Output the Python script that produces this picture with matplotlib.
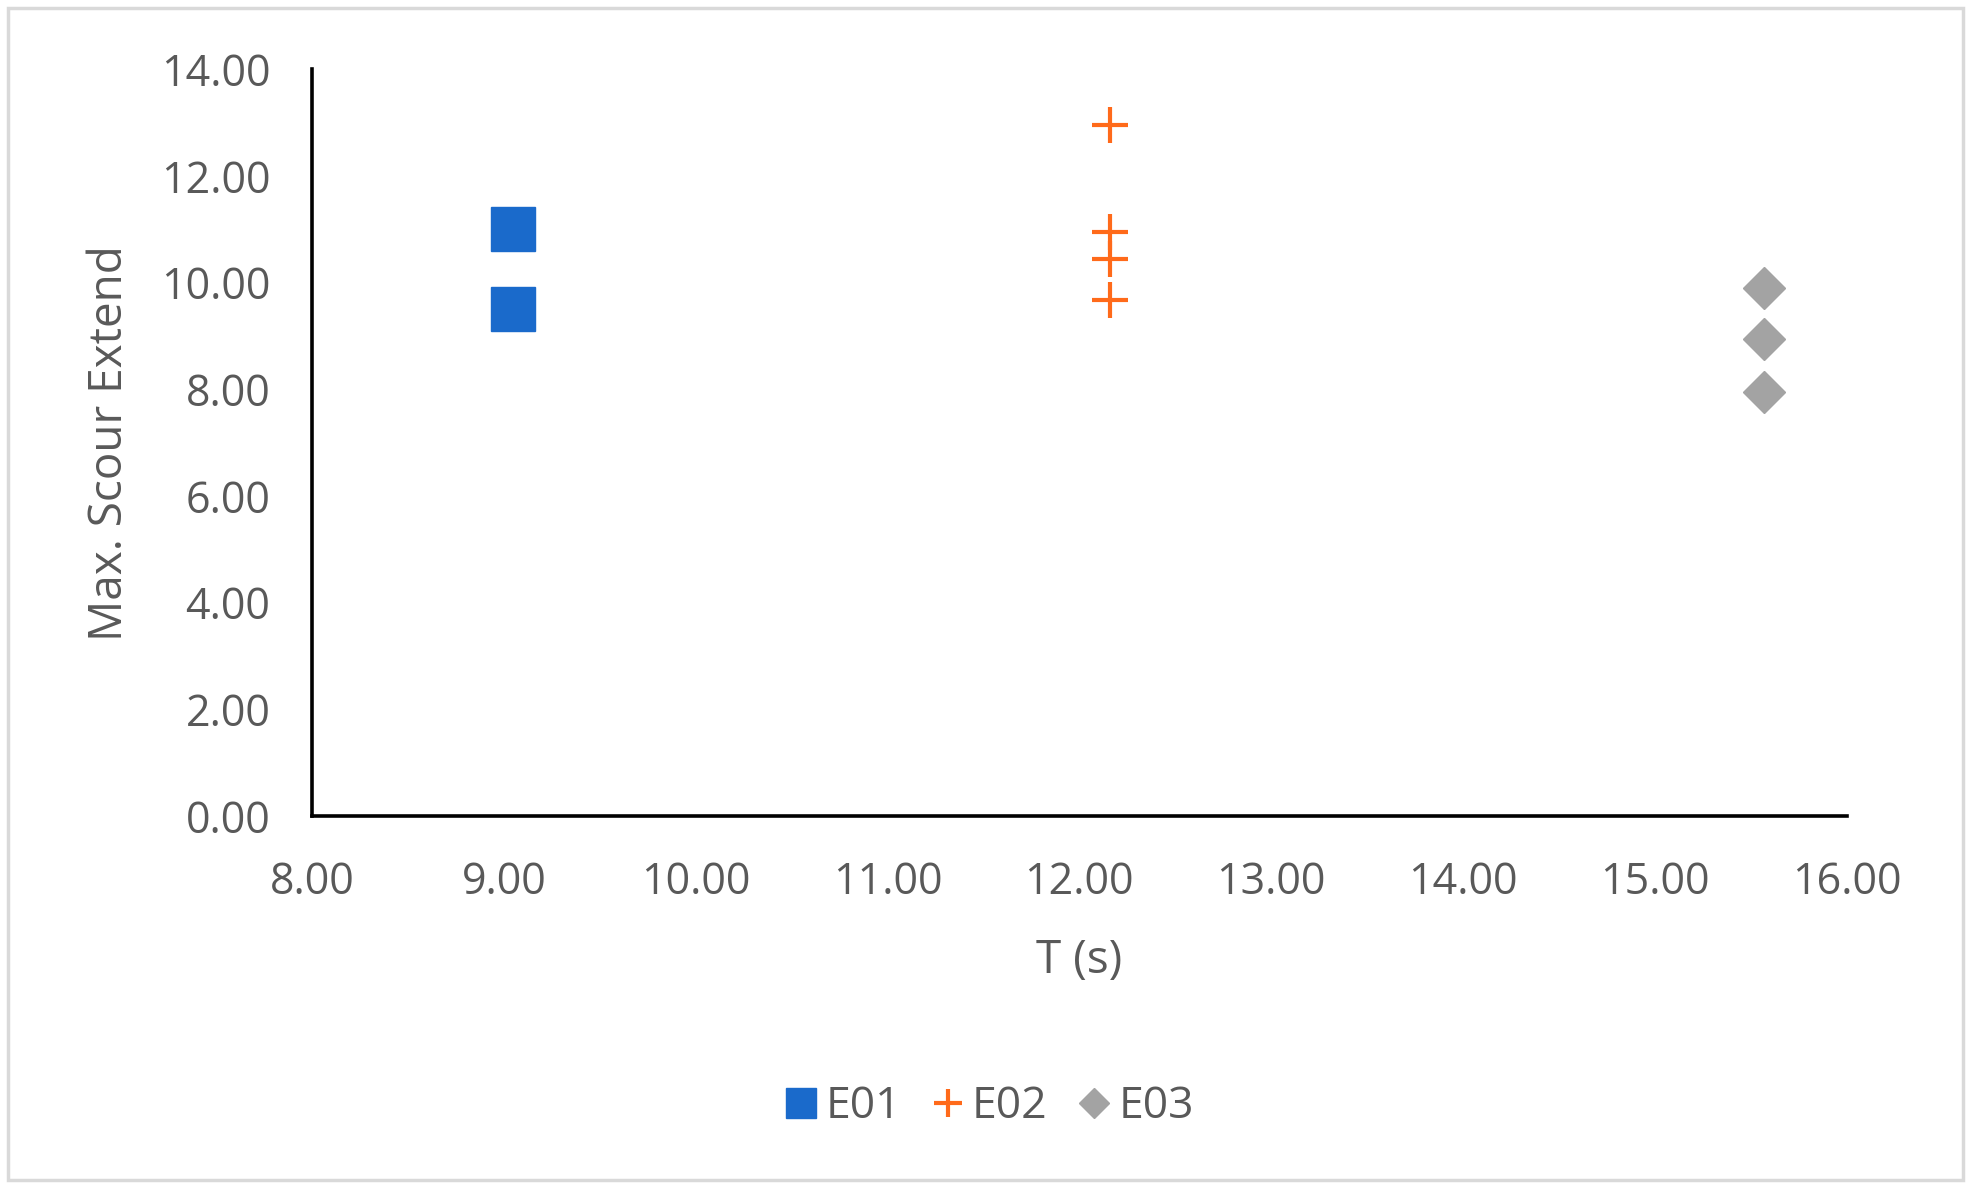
import matplotlib
matplotlib.use('Agg')
import matplotlib.pyplot as plt
from matplotlib.patches import Rectangle
from matplotlib.lines import Line2D

plt.rcParams['font.family'] = ['Open Sans', 'DejaVu Sans']

# values
E01_T = [9.05, 9.05]
E01_S = [11.00, 9.50]
E02_T = [12.16, 12.16, 12.16, 12.16]
E02_S = [12.95, 10.95, 10.45, 9.67]
E03_T = [15.57, 15.57, 15.57]
E03_S = [9.90, 8.95, 7.95]

BLUE, ORANGE, GRAY = '#1a6acb', '#ff6a1a', '#a3a3a3'
TXT = '#595959'

fig = plt.figure(figsize=(19.75, 11.93), dpi=100)
ax = fig.add_axes([0.158, 0.316, 0.777, 0.626])

ax.plot(E01_T, E01_S, 's', color=BLUE, ms=31, mec=BLUE, ls='none', label='E01')
ax.plot(E02_T, E02_S, '+', color=ORANGE, ms=26, mew=3, ls='none', label='E02')
ax.plot(E03_T, E03_S, 'D', color=GRAY, ms=21, mec=GRAY, ls='none', label='E03')

ax.set_xlim(8, 16)
ax.set_ylim(0, 14)
ax.set_xticks(range(8, 17))
ax.set_yticks(range(0, 15, 2))
ax.xaxis.set_major_formatter(lambda v, p: f'{v:.2f}')
ax.yaxis.set_major_formatter(lambda v, p: f'{v:.2f}')
ax.tick_params(length=0, labelsize=31, labelcolor=TXT)
ax.tick_params(axis='x', pad=32)
ax.tick_params(axis='y', pad=30)
for s in ['top', 'right']:
    ax.spines[s].set_visible(False)
for s in ['left', 'bottom']:
    ax.spines[s].set_linewidth(2.6)
    ax.spines[s].set_color('black')

ax.set_xlabel('T (s)', fontsize=33, color=TXT, labelpad=24)
ax.set_ylabel('Max. Scour Extend', fontsize=33, color=TXT, labelpad=20)

handles = [
    Line2D([], [], marker='s', color=BLUE, ms=22, ls='none'),
    Line2D([], [], marker='+', color=ORANGE, ms=20, mew=3, ls='none'),
    Line2D([], [], marker='D', color=GRAY, ms=15, ls='none'),
]
fig.legend(handles, ['E01', 'E02', 'E03'], loc='center', bbox_to_anchor=(0.5, 0.072),
           ncol=3, frameon=False, fontsize=32, labelcolor=TXT,
           handletextpad=0.1, columnspacing=0.6, handlelength=0.9)

fig.patches.append(Rectangle((0.004, 0.011), 0.990, 0.982, transform=fig.transFigure,
                             fill=False, ec='#d9d9d9', lw=2.5))

fig.savefig('out.png', dpi=100)
